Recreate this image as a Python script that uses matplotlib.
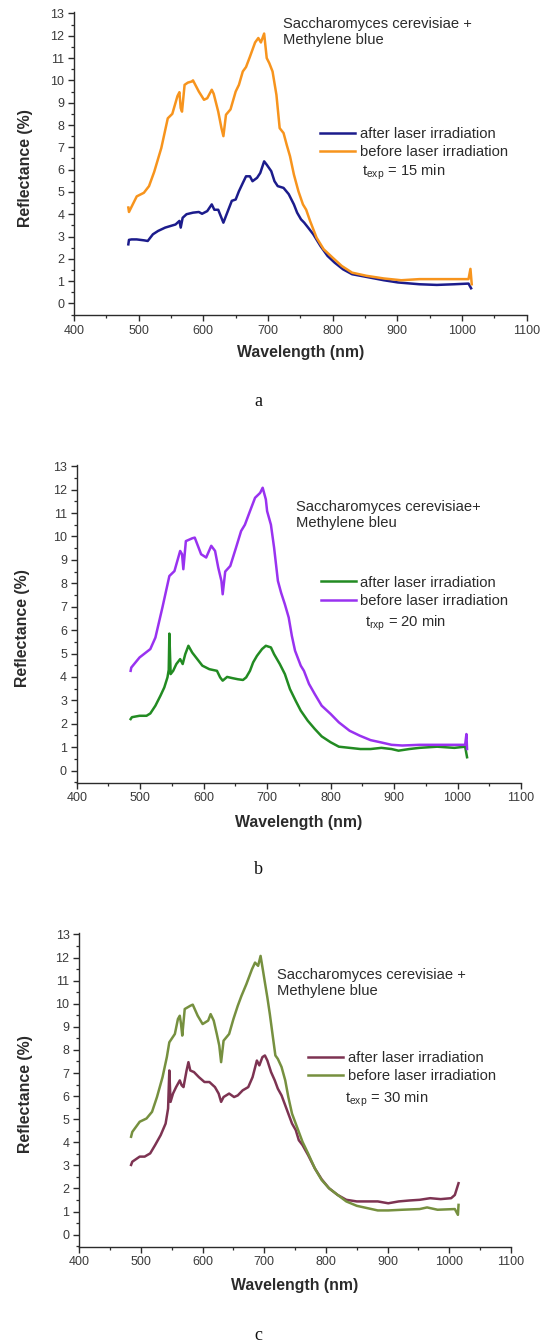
import matplotlib
matplotlib.use("Agg")
import matplotlib.pyplot as plt
from matplotlib.ticker import MultipleLocator

plt.rcParams["font.family"] = ["Liberation Sans", "DejaVu Sans"]
plt.rcParams["mathtext.default"] = "regular"

# ---- panel a (15 min) ----
a_before_wl = [484, 485, 497, 508, 516, 524, 535, 545, 552, 560, 563, 565, 567, 571, 576, 582, 584,
               593, 601, 606, 613, 616, 623, 628, 631, 635, 642, 650, 655, 661, 666, 672, 680, 685,
               689, 694, 698, 702, 707, 713, 718, 724, 729, 734, 740, 747, 754, 759, 765, 775, 786,
               800, 814, 830, 852, 879, 906, 934, 961, 988, 1010, 1013, 1015]
a_before_refl = [4.3, 4.1, 4.8, 4.96, 5.26, 5.9, 6.97, 8.3, 8.5, 9.3, 9.47, 8.76, 8.6, 9.8, 9.9, 9.95,
                 10.0, 9.5, 9.13, 9.2, 9.58, 9.4, 8.6, 7.86, 7.5, 8.46, 8.7, 9.5, 9.8, 10.4, 10.6,
                 11.06, 11.7, 11.9, 11.7, 12.1, 11.0, 10.77, 10.4, 9.35, 7.86, 7.64, 7.1, 6.6, 5.78,
                 5.03, 4.44, 4.2, 3.7, 2.95, 2.43, 2.05, 1.68, 1.38, 1.24, 1.12, 1.04, 1.09, 1.09,
                 1.09, 1.09, 1.55, 0.86]
a_after_wl = [484, 485, 489, 497, 508, 514, 522, 530, 541, 549, 557, 563, 565, 568, 574, 584, 593,
              598, 606, 613, 617, 623, 631, 636, 644, 650, 655, 661, 666, 672, 676, 683, 688, 694,
              698, 705, 710, 715, 724, 732, 740, 745, 751, 756, 762, 770, 781, 792, 803, 816, 830,
              852, 879, 901, 934, 961, 988, 1010, 1014]
a_after_refl = [2.65, 2.85, 2.87, 2.87, 2.83, 2.8, 3.1, 3.25, 3.4, 3.47, 3.54, 3.7, 3.4, 3.84, 4.0,
                4.07, 4.1, 4.02, 4.14, 4.44, 4.2, 4.2, 3.62, 4.0, 4.6, 4.66, 5.03, 5.4, 5.7, 5.7,
                5.48, 5.63, 5.85, 6.37, 6.22, 5.93, 5.48, 5.26, 5.18, 4.9, 4.44, 4.07, 3.77, 3.62,
                3.4, 3.1, 2.58, 2.13, 1.83, 1.53, 1.31, 1.19, 1.04, 0.94, 0.86, 0.83, 0.86, 0.89,
                0.68]

# ---- panel b (20 min) ----
b_before_wl = [485, 486, 499, 516, 524, 535, 546, 554, 563, 566, 568, 572, 582, 586, 596, 604, 612,
               618, 623, 628, 630, 634, 642, 651, 659, 665, 673, 681, 689, 693, 698, 700, 706, 711,
               717, 722, 728, 734, 739, 744, 753, 758, 766, 775, 786, 800, 813, 830, 846, 863, 880,
               896, 913, 940, 968, 995, 1012, 1014, 1015]
b_before_refl = [4.26, 4.4, 4.83, 5.19, 5.68, 6.96, 8.31, 8.52, 9.38, 9.24, 8.6, 9.8, 9.92, 9.95,
                 9.24, 9.1, 9.6, 9.38, 8.67, 8.1, 7.53, 8.5, 8.74, 9.52, 10.23, 10.5, 11.08, 11.65,
                 11.86, 12.08, 11.58, 11.08, 10.5, 9.52, 8.1, 7.6, 7.1, 6.54, 5.75, 5.12, 4.48, 4.26,
                 3.7, 3.27, 2.77, 2.42, 2.06, 1.7, 1.49, 1.3, 1.2, 1.1, 1.07, 1.1, 1.1, 1.1, 1.1,
                 1.56, 0.92]
b_after_wl = [485, 487, 499, 510, 516, 524, 532, 538, 543, 545, 546, 548, 552, 557, 563, 567, 571,
              576, 582, 590, 598, 609, 621, 626, 630, 637, 645, 654, 662, 667, 673, 678, 684, 692,
              698, 706, 711, 720, 728, 736, 745, 753, 764, 775, 786, 800, 813, 830, 847, 863, 880,
              896, 907, 924, 940, 968, 995, 1012, 1015]
b_after_refl = [2.2, 2.28, 2.34, 2.34, 2.44, 2.77, 3.2, 3.55, 3.98, 4.3, 5.85, 4.12, 4.26, 4.55,
                4.76, 4.55, 4.97, 5.33, 5.04, 4.76, 4.48, 4.33, 4.26, 3.98, 3.84, 4.0, 3.95, 3.9,
                3.87, 3.98, 4.26, 4.62, 4.9, 5.19, 5.33, 5.26, 4.97, 4.55, 4.12, 3.48, 2.98, 2.56,
                2.13, 1.78, 1.46, 1.21, 1.02, 0.97, 0.92, 0.92, 0.97, 0.92, 0.85, 0.92, 0.97, 1.02,
                0.97, 1.02, 0.57]

# ---- panel c (30 min) ----
c_before_wl = [484, 486, 498, 509, 518, 526, 535, 542, 546, 555, 560, 563, 565, 567, 571, 580, 584,
               592, 600, 609, 613, 618, 623, 627, 630, 634, 643, 650, 657, 663, 671, 680, 685, 690,
               694, 698, 701, 705, 709, 714, 718, 722, 728, 734, 739, 745, 751, 756, 762, 771, 782,
               793, 805, 819, 833, 850, 867, 884, 901, 924, 952, 964, 981, 1009, 1014, 1015]
c_before_refl = [4.24, 4.45, 4.89, 5.03, 5.32, 5.96, 6.82, 7.69, 8.33, 8.69, 9.34, 9.48, 9.12, 8.62,
                 9.77, 9.91, 9.96, 9.48, 9.12, 9.27, 9.55, 9.27, 8.69, 8.19, 7.47, 8.4, 8.69, 9.34,
                 9.91, 10.34, 10.85, 11.49, 11.78, 11.64, 12.07, 11.42, 10.92, 10.27, 9.55, 8.55,
                 7.76, 7.61, 7.26, 6.68, 5.96, 5.24, 4.81, 4.45, 4.02, 3.52, 2.87, 2.37, 2.01, 1.72,
                 1.44, 1.25, 1.15, 1.05, 1.05, 1.08, 1.11, 1.18, 1.08, 1.11, 0.86, 1.29]
c_after_wl = [484, 486, 498, 506, 515, 523, 532, 540, 544, 546, 548, 552, 557, 563, 566, 569, 574,
              577, 580, 586, 594, 603, 611, 620, 626, 630, 634, 643, 651, 657, 665, 674, 681, 688,
              692, 697, 701, 705, 711, 717, 722, 728, 734, 739, 745, 751, 756, 762, 771, 782, 793,
              805, 819, 833, 850, 867, 884, 901, 918, 935, 952, 969, 986, 1003, 1009, 1015]
c_after_refl = [3.02, 3.16, 3.38, 3.38, 3.52, 3.88, 4.31, 4.81, 5.46, 7.11, 5.75, 6.11, 6.39, 6.68,
                6.47, 6.39, 7.11, 7.47, 7.11, 7.04, 6.82, 6.61, 6.61, 6.39, 6.11, 5.75, 5.96, 6.11,
                5.96, 6.03, 6.25, 6.39, 6.82, 7.54, 7.33, 7.69, 7.76, 7.54, 7.04, 6.68, 6.32, 6.03,
                5.6, 5.24, 4.81, 4.53, 4.09, 3.88, 3.45, 2.87, 2.4, 2.01, 1.72, 1.51, 1.44, 1.44,
                1.44, 1.36, 1.44, 1.48, 1.51, 1.58, 1.54, 1.58, 1.72, 2.23]

labels = ["after laser irradiation", "before laser irradiation"]
species = ["Saccharomyces cerevisiae +\nMethylene blue",
           "Saccharomyces cerevisiae+\nMethylene bleu",
           "Saccharomyces cerevisiae +\nMethylene blue"]
exposure = [r"t$_{exp}$ = 15 min", r"t$_{rxp}$ = 20 min", r"t$_{exp}$ = 30 min"]
panel_letters = ["a", "b", "c"]

INK = "#2b2b2b"


def draw_panel(ax, after, before, colors, species_txt, exp_txt, spec_xy, leg_xy, exp_xy, ylab_x):
    ax.plot(after[0], after[1], color=colors[0], lw=1.8, label=labels[0])
    ax.plot(before[0], before[1], color=colors[1], lw=1.8, label=labels[1])

    ax.set_xlim(400, 1100)
    ax.set_ylim(-0.52, 13.05)
    ax.xaxis.set_major_locator(MultipleLocator(100))
    ax.xaxis.set_minor_locator(MultipleLocator(50))
    ax.yaxis.set_major_locator(MultipleLocator(1))
    ax.yaxis.set_minor_locator(MultipleLocator(0.5))
    ax.set_yticks(range(0, 14))

    for side in ["top", "right"]:
        ax.spines[side].set_visible(False)
    for side in ["left", "bottom"]:
        ax.spines[side].set_linewidth(1.0)
        ax.spines[side].set_color(INK)

    ax.tick_params(which="major", direction="out", length=4.5, width=1.0, color=INK,
                   labelsize=9, labelcolor="#3a3a3a", pad=2.5)
    ax.tick_params(which="minor", direction="out", length=2.5, width=0.9, color=INK)

    ax.set_xlabel("Wavelength (nm)", fontsize=11.4, fontweight="bold", color=INK)
    ax.set_ylabel("Reflectance (%)", fontsize=11.4, fontweight="bold", color=INK)
    ax.xaxis.set_label_coords(0.5, -0.10)
    ax.yaxis.set_label_coords(ylab_x, 0.487)

    ax.text(spec_xy[0], spec_xy[1], species_txt, transform=ax.transAxes, fontsize=10.6,
            color=INK, ha="left", va="top", linespacing=1.15)
    leg = ax.legend(loc="upper left", bbox_to_anchor=leg_xy, frameon=False, fontsize=10.6,
                    handlelength=2.4, handletextpad=0.3, labelspacing=0.28,
                    borderpad=0, borderaxespad=0)
    for t in leg.get_texts():
        t.set_color(INK)
    ax.text(exp_xy[0], exp_xy[1], exp_txt, transform=ax.transAxes, fontsize=10.6,
            color=INK, ha="left", va="center")


fig = plt.figure(figsize=(5.49, 13.44), dpi=100)

ax_a = fig.add_axes([0.1348, 0.7656, 0.8246, 0.2252])
ax_b = fig.add_axes([0.1397, 0.4176, 0.8093, 0.2364])
ax_c = fig.add_axes([0.1444, 0.0724, 0.7863, 0.2332])

draw_panel(ax_a, (a_after_wl, a_after_refl), (a_before_wl, a_before_refl),
           ("#1c1c8c", "#f7941d"), species[0], exposure[0],
           (0.462, 0.985), (0.543, 0.622), (0.636, 0.472), -0.09)
draw_panel(ax_b, (b_after_wl, b_after_refl), (b_before_wl, b_before_refl),
           ("#228b22", "#9932f0"), species[1], exposure[1],
           (0.494, 0.890), (0.549, 0.652), (0.649, 0.503), -0.105)
draw_panel(ax_c, (c_after_wl, c_after_refl), (c_before_wl, c_before_refl),
           ("#7d3352", "#76903f"), species[2], exposure[2],
           (0.457, 0.888), (0.530, 0.624), (0.615, 0.470), -0.107)

for letter, ypix in zip(panel_letters, [402, 870, 1335]):
    fig.text(258 / 549, 1 - ypix / 1344, letter, ha="center", va="center",
             family=["Liberation Serif", "DejaVu Serif"], fontsize=13, color="#111111")

fig.savefig("out.png", dpi=100)
